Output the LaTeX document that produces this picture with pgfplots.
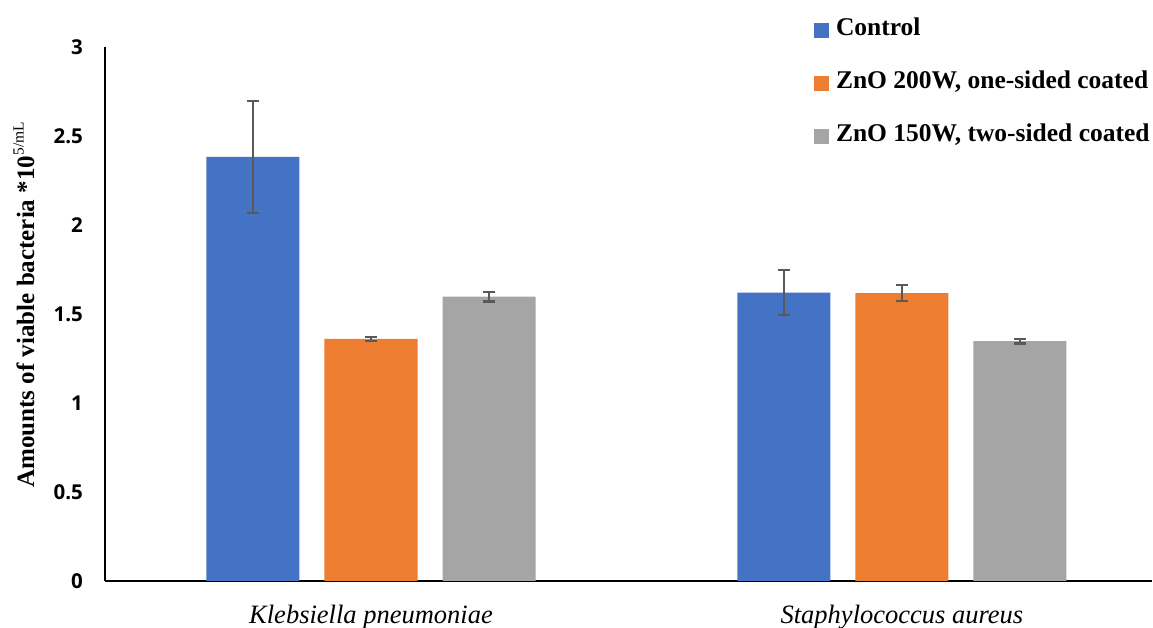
\documentclass[border=0pt]{standalone}
\usepackage{fontspec}
\setmainfont{Liberation Serif}
\newfontfamily\ticksans{Open Sans}
\usepackage{pgfplots}
\pgfplotsset{compat=1.18}

\definecolor{ctrlblue}{HTML}{4472C4}
\definecolor{znoorange}{HTML}{ED7D31}
\definecolor{znogray}{HTML}{A5A5A5}
\definecolor{errgray}{HTML}{595959}

\begin{document}
\begin{tikzpicture}[x=1pt,y=1pt]
\useasboundingbox (0,0) rectangle (1153,628);
\begin{axis}[
  at={(105pt,47pt)}, anchor=south west,
  scale only axis, width=1047pt, height=534pt,
  xmin=-0.501, xmax=1.471, ymin=0, ymax=3,
  ytick={0,0.5,1,1.5,2,2.5,3},
  xtick={0,1},
  xticklabels={Klebsiella pneumoniae, Staphylococcus aureus},
  axis x line=bottom, axis y line=left,
  axis line style={-, line width=1.6pt, black},
  major tick length=0pt,
  /pgf/number format/assume math mode=true,
  yticklabel style={font=\ticksans\bfseries\fontsize{20.5}{20.5}\selectfont, inner sep=0pt, anchor=east, xshift=-22pt},
  xticklabel style={font=\itshape\fontsize{26.5}{26.5}\selectfont, inner sep=0pt, anchor=base, yshift=-43pt},
  ylabel={Amounts of viable bacteria *10\raisebox{0.42em}{\mdseries\fontsize{15.5}{15.5}\selectfont 5/mL}},
  ylabel style={font=\bfseries\fontsize{25}{25}\selectfont, at={(axis description cs:-0.0774,0.517)}, anchor=center, rotate=0, inner sep=0pt},
  ybar, bar width=93pt,
  error bars/y dir=both, error bars/y explicit,
  error bars/error bar style={line width=2.2pt, errgray},
  error bars/error mark options={line width=2.2pt, errgray, mark size=6pt, rotate=90},
  legend style={at={(axis description cs:0.677,1.053)}, anchor=north west,
    draw=none, fill=none, inner sep=0pt, row sep=30pt, column sep=7pt,
    font=\bfseries\fontsize{25.5}{25.5}\selectfont,
    nodes={inner sep=0pt, text height=17pt, text depth=6pt}},
  legend cell align=left,
  legend image code/.code={\fill[#1] (0pt,-7.5pt) rectangle (15pt,7.5pt);},
]
% Control
\addplot[fill=ctrlblue, draw=none, bar shift=-118pt] coordinates {
  (0,2.382) +- (0,0.316)
  (1,1.620) +- (0,0.125)
};
% ZnO 200 W, one-sided coating
\addplot[fill=znoorange, draw=none, bar shift=0pt] coordinates {
  (0,1.360) +- (0,0.010)
  (1,1.617) +- (0,0.044)
};
% ZnO 150 W, two-sided coating
\addplot[fill=znogray, draw=none, bar shift=118pt] coordinates {
  (0,1.597) +- (0,0.027)
  (1,1.347) +- (0,0.013)
};
\legend{Control, {ZnO 200W, one-sided coated}, {ZnO 150W, two-sided coated}}
\end{axis}
\end{tikzpicture}
\end{document}
